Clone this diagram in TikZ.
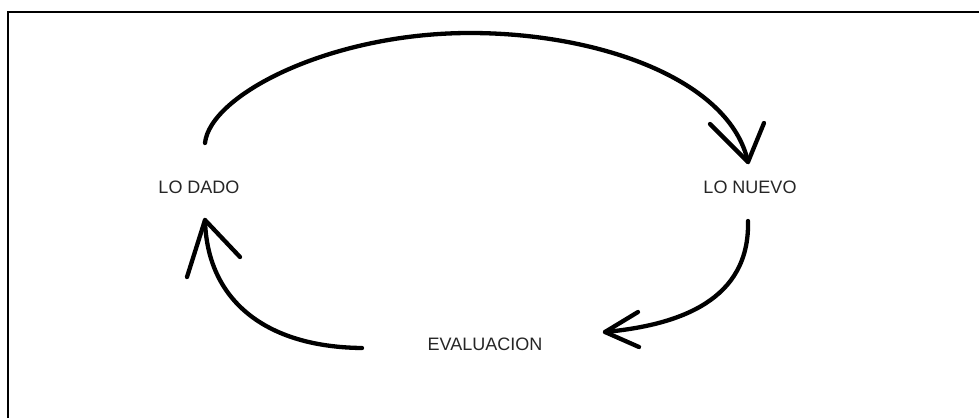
\documentclass[tikz,border=0pt]{standalone}
\usepackage{fontspec}
\setmainfont{Liberation Sans}
\begin{document}
\begin{tikzpicture}[x=1pt,y=-1pt,
  lbl/.style={font=\fontsize{18}{20}\selectfont, text=black!85, inner sep=0pt},
  stroke/.style={line width=4.3pt, line cap=round, line join=round},
  frame/.style={line width=1.8pt}]
\useasboundingbox (0,0) rectangle (979,418);
\fill[white] (0,0) rectangle (979,418);
\draw[frame] (8,418) -- (8,12) -- (979,12);
% labels
\node[lbl] (dado) at (199,187) {LO DADO};
\node[lbl] (nuevo) at (750,187) {LO NUEVO};
\node[lbl] (eval) at (485,344) {EVALUACION};
% top arc: LO DADO -> LO NUEVO
\coordinate (a1s) at (205,143);
\coordinate (a1t) at (748,162);
\coordinate (a1b1) at (710,124);
\coordinate (a1b2) at (764,123);
\draw[stroke] (a1s) .. controls (210,95) and (330,33) .. (470,33)
  .. controls (600,33) and (730,80) .. (a1t);
\draw[stroke] (a1b1) -- (a1t) -- (a1b2);
% right arc: LO NUEVO -> EVALUACION
\coordinate (a2s) at (748,221);
\coordinate (a2t) at (605,332);
\coordinate (a2b1) at (638,312);
\coordinate (a2b2) at (639,347);
\draw[stroke] (a2s) .. controls (750,300) and (680,325) .. (a2t);
\draw[stroke] (a2b1) -- (a2t) -- (a2b2);
% left arc: EVALUACION -> LO DADO
\coordinate (a3s) at (362,348);
\coordinate (a3t) at (205,220);
\coordinate (a3b1) at (187,277);
\coordinate (a3b2) at (240,257);
\draw[stroke] (a3s) .. controls (265,347) and (207,300) .. (a3t);
\draw[stroke] (a3b1) -- (a3t) -- (a3b2);
\end{tikzpicture}
\end{document}
